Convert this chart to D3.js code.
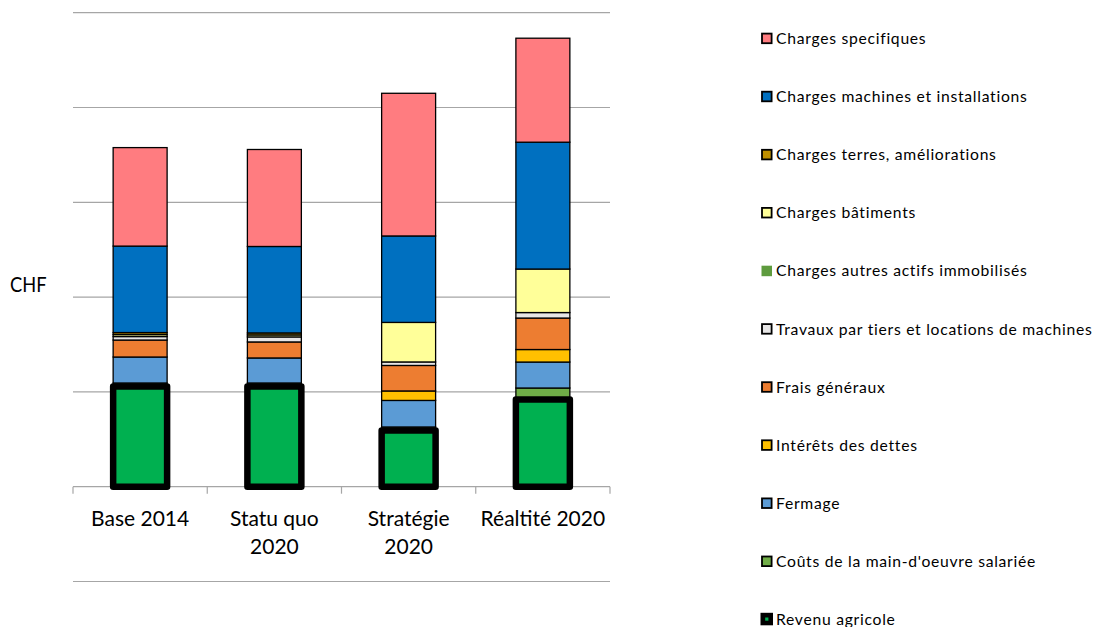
<!DOCTYPE html>
<html>
<head>
<meta charset="utf-8">
<script src="https://cdn.jsdelivr.net/npm/d3@7"></script>
<style>
  html, body { margin: 0; padding: 0; background: #fff; }
  svg { display: block; font-family: Lato, "Open Sans", sans-serif; }
</style>
</head>
<body>
<svg id="chart" width="1096" height="627"></svg>
<script>
// Scenarios on the category axis
const categories = ["Base 2014", "Statu quo 2020", "Stratégie 2020", "Réaltité 2020"];
const tickLines = [["Base 2014"], ["Statu quo", "2020"], ["Stratégie", "2020"], ["Réaltité 2020"]];

// Stack components, bottom to top (CHF)
const revenuAgricole   = [52850, 52850, 29650, 46000];
const coutsMainOeuvre  = [1850, 1850, 1850, 6050];
const fermage          = [13700, 13200, 14000, 13700];
const interetsDettes   = [0, 0, 5000, 6600];
const fraisGeneraux    = [8950, 8450, 13450, 16600];
const travauxTiers     = [1850, 2650, 1850, 2900];
const autresActifs     = [0, 0, 0, 0];
const chargesBatiments = [1050, 1050, 20850, 22950];
const chargesTerres    = [1050, 1050, 0, 0];
const chargesMachines  = [45600, 45600, 45600, 66900];
const chargesSpecif    = [51950, 51150, 75250, 54850];

const seriesNames = [
  "Revenu agricole",
  "Coûts de la main-d'oeuvre salariée",
  "Fermage",
  "Intérêts des dettes",
  "Frais généraux",
  "Travaux par tiers et locations de machines",
  "Charges autres actifs immobilisés",
  "Charges bâtiments",
  "Charges terres, améliorations",
  "Charges machines et installations",
  "Charges specifiques"
];
const seriesValues = [
  revenuAgricole, coutsMainOeuvre, fermage, interetsDettes, fraisGeneraux,
  travauxTiers, autresActifs, chargesBatiments, chargesTerres, chargesMachines, chargesSpecif
];
const seriesColors = [
  "#00B050", "#70AD47", "#5B9BD5", "#FFC000", "#ED7D31",
  "#E7E6E6", "#5E9B3E", "#FFFF99", "#BF9000", "#0070C0", "#FF7C80"
];

// Axis ticks (gridlines)
const yTicks = [-50000, 0, 50000, 100000, 150000, 200000, 250000];

const svg = d3.select("#chart");

const x = d3.scaleBand()
  .domain(categories)
  .range([73, 610])
  .paddingInner(0.598)
  .paddingOuter(0.299);

const y = d3.scaleLinear()
  .domain([-50000, 250000])
  .range([581.5, 12.7]);

// Gridlines
svg.append("g")
  .selectAll("line")
  .data(yTicks.filter(d => d !== 0))
  .join("line")
  .attr("x1", 73).attr("x2", 610)
  .attr("y1", d => y(d)).attr("y2", d => y(d))
  .attr("stroke", "#a6a6a6").attr("stroke-width", 1.2);

// Category axis at zero with tick marks between categories
const xAxisY = y(0);
svg.append("line")
  .attr("x1", 73).attr("x2", 610)
  .attr("y1", xAxisY).attr("y2", xAxisY)
  .attr("stroke", "#a6a6a6").attr("stroke-width", 1.2);

const gap = x.step() - x.bandwidth();
const boundaries = categories.map(c => x(c) - gap / 2);
boundaries.push(x(categories[categories.length - 1]) + x.bandwidth() + gap / 2);
svg.append("g")
  .selectAll("line")
  .data(boundaries)
  .join("line")
  .attr("x1", d => d).attr("x2", d => d)
  .attr("y1", xAxisY).attr("y2", xAxisY + 7)
  .attr("stroke", "#a6a6a6").attr("stroke-width", 1.2);

// Stacked data
const rows = categories.map((c, i) => {
  const r = { cat: c };
  seriesNames.forEach((n, k) => { r[n] = seriesValues[k][i]; });
  return r;
});
const stacked = d3.stack().keys(seriesNames)(rows);

// Cost segments (thin black outline)
stacked.slice(1).forEach((layer, li) => {
  const k = li + 1;
  svg.append("g")
    .selectAll("rect")
    .data(layer.filter(d => d[1] - d[0] > 0))
    .join("rect")
    .attr("x", d => x(d.data.cat))
    .attr("width", x.bandwidth())
    .attr("y", d => y(d[1]))
    .attr("height", d => y(d[0]) - y(d[1]))
    .attr("fill", seriesColors[k])
    .attr("stroke", "#000")
    .attr("stroke-width", 1.3);
});

// Farm income segment with heavy outline
svg.append("g")
  .selectAll("rect")
  .data(stacked[0])
  .join("rect")
  .attr("x", d => x(d.data.cat))
  .attr("width", x.bandwidth())
  .attr("y", d => y(d[1]))
  .attr("height", d => y(d[0]) - y(d[1]))
  .attr("fill", seriesColors[0])
  .attr("stroke", "#000")
  .attr("stroke-width", 6.5)
  .attr("stroke-linejoin", "round");

// Category labels
const lab = svg.append("g")
  .selectAll("text")
  .data(categories)
  .join("text")
  .attr("text-anchor", "middle")
  .attr("font-size", 21)
  .attr("fill", "#000")
  .attr("transform", d => `translate(${x(d) + x.bandwidth() / 2},${xAxisY + 39.3})`);
lab.selectAll("tspan")
  .data((d, i) => tickLines[i])
  .join("tspan")
  .attr("x", 0)
  .attr("dy", (d, i) => i === 0 ? 0 : 28)
  .text(d => d);

// Value axis title
svg.append("text")
  .attr("x", 10).attr("y", 291.7)
  .attr("font-size", 20.5)
  .attr("textLength", 36.5)
  .attr("lengthAdjust", "spacingAndGlyphs")
  .attr("fill", "#000")
  .text("CHF");

// Legend (top of stack first)
const legendOrder = d3.range(seriesNames.length).reverse();
const legend = svg.append("g")
  .selectAll("g")
  .data(legendOrder)
  .join("g")
  .attr("transform", (k, i) => `translate(761,${38.3 + i * 58.1})`);

legend.each(function(k) {
  const g = d3.select(this);
  if (k === 0) {
    g.append("rect").attr("x", -0.5).attr("y", -6.5).attr("width", 12.5).attr("height", 12.5)
      .attr("fill", "#000");
    g.append("rect").attr("x", 4.2).attr("y", -1.8).attr("width", 3.2).attr("height", 3.2)
      .attr("fill", seriesColors[0]);
  } else if (k === 6) {
    g.append("rect").attr("x", 0.5).attr("y", -5).attr("width", 10.5).attr("height", 10.5)
      .attr("fill", seriesColors[k]);
  } else {
    g.append("rect").attr("x", 1).attr("y", -4.7).attr("width", 9.6).attr("height", 9.6)
      .attr("fill", seriesColors[k])
      .attr("stroke", "#000").attr("stroke-width", 1.8);
  }
  g.append("text")
    .attr("x", 15).attr("y", 5.7)
    .attr("font-size", 15.7)
    .attr("letter-spacing", 0.72)
    .attr("fill", "#000")
    .text(seriesNames[k]);
});
</script>
</body>
</html>
